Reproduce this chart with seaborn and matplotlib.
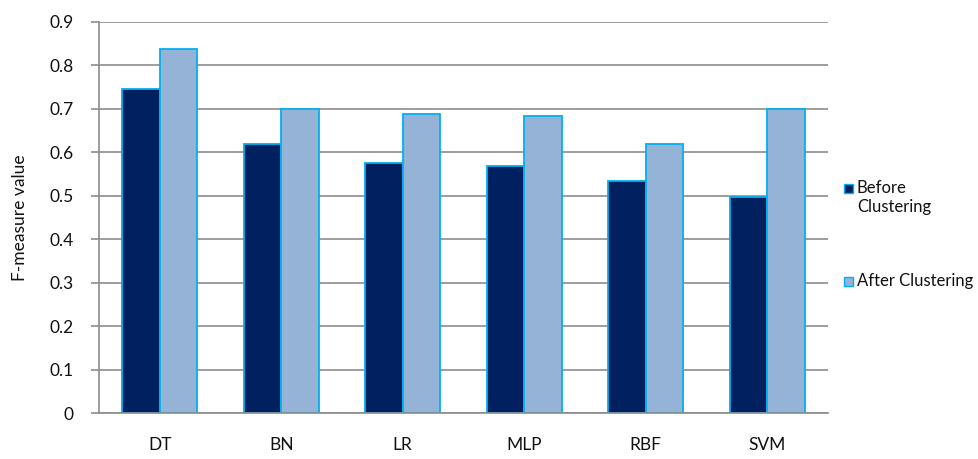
import matplotlib
matplotlib.use("Agg")
import matplotlib.pyplot as plt
import seaborn as sns
import pandas as pd
from matplotlib.patches import Rectangle

categories = ["DT", "BN", "LR", "MLP", "RBF", "SVM"]
before = [0.746, 0.619, 0.576, 0.569, 0.534, 0.498]
after = [0.838, 0.700, 0.688, 0.684, 0.619, 0.700]
series = ["Before\nClustering", "After Clustering"]
yticks = [0, 0.1, 0.2, 0.3, 0.4, 0.5, 0.6, 0.7, 0.8, 0.9]

df = pd.DataFrame({
    "cat": categories * 2,
    "val": before + after,
    "series": [series[0]] * len(categories) + [series[1]] * len(categories),
})

sns.set_style("white")
plt.rcParams["font.family"] = ["Lato", "DejaVu Sans"]

W, H = 979, 459
fig = plt.figure(figsize=(W / 100, H / 100), dpi=100)
ax = fig.add_axes([99 / W, 1 - 413 / H, (828 - 99) / W, (413 - 22) / H])

colors = ["#002060", "#95B3D7"]
edge = "#00B0F0"
sns.barplot(data=df, x="cat", y="val", hue="series", palette=colors, width=0.62,
            edgecolor=edge, linewidth=1.3, saturation=1, ax=ax, legend=False)

ax.set_ylim(0, 0.9)
ax.set_xlim(-0.5, len(categories) - 0.5)
ax.set_yticks(yticks)
ax.set_yticklabels([f"{t:g}" for t in yticks])
ax.yaxis.grid(True, color="#8c8c8c", linewidth=1.2)
ax.set_axisbelow(True)
for s in ["top", "right"]:
    ax.spines[s].set_visible(False)
for s in ["left", "bottom"]:
    ax.spines[s].set_color("#8c8c8c")
    ax.spines[s].set_linewidth(1.2)
ax.tick_params(axis="y", which="both", left=True, length=6, width=1.2, color="#8c8c8c",
               labelsize=12.5, pad=12, labelcolor="#111111")
ax.tick_params(axis="x", bottom=False, labelsize=12.5, pad=14, labelcolor="#111111")
ax.set_xlabel("")
ax.set_ylabel("F-measure value", fontsize=12.5, labelpad=16, color="#111111")

# legend drawn at the right
legend_items = [(series[0], colors[0], 183), (series[1], colors[1], 276)]
for label, col, ytop in legend_items:
    fig.patches.append(Rectangle((844 / W, 1 - (ytop + 10) / H), 9 / W, 9 / H,
                                 transform=fig.transFigure, facecolor=col,
                                 edgecolor=edge, linewidth=1))
    fig.text(857 / W, 1 - (ytop - 3) / H, label, ha="left", va="top", fontsize=12,
             color="#111111", linespacing=1.2)

fig.savefig("out.png", dpi=100)
